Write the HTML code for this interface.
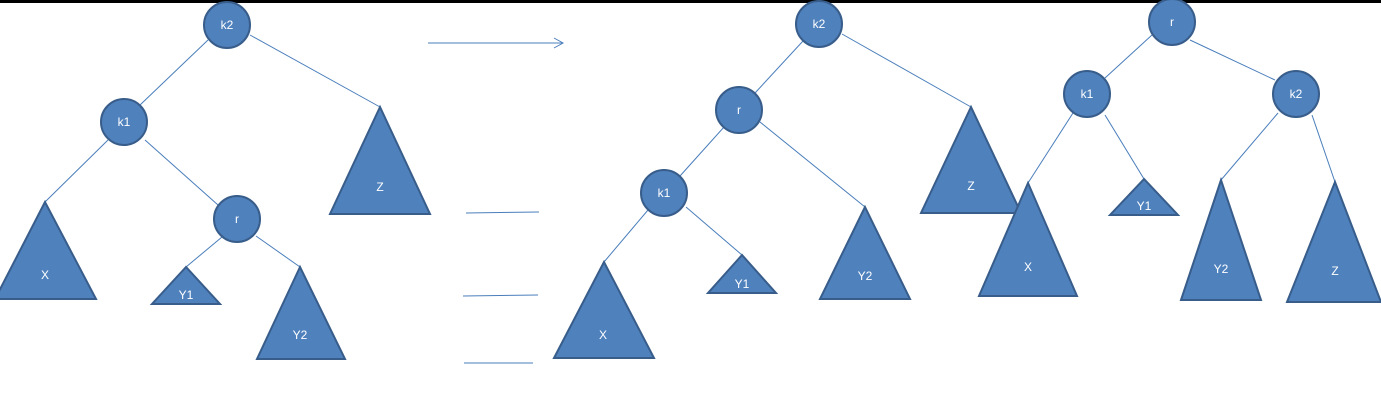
<!DOCTYPE html>
<html><head><style>
html,body{margin:0;padding:0;background:#fff;width:1381px;height:404px;overflow:hidden}
svg text{font-family:"Liberation Sans",sans-serif;font-size:12px;fill:#fff;text-anchor:middle;dominant-baseline:middle}
</style></head><body>
<svg width="1381" height="404" viewBox="0 0 1381 404" xmlns="http://www.w3.org/2000/svg">
<rect x="0" y="0" width="1381" height="3" fill="#000"/>
<g stroke="#4a7ebb" stroke-width="1" fill="none">
<line x1="208" y1="40" x2="140" y2="105"/>
<line x1="250" y1="35" x2="380" y2="107"/>
<line x1="108" y1="140" x2="45" y2="202"/>
<line x1="145" y1="140" x2="218" y2="205"/>
<line x1="222" y1="237" x2="186" y2="267"/>
<line x1="256" y1="236" x2="300" y2="267"/>
<line x1="428" y1="43" x2="563" y2="43"/>
<polyline points="554,38 563,43 554,48"/>
<line x1="466" y1="213" x2="539" y2="212"/>
<line x1="463" y1="296" x2="538" y2="295"/>
<line x1="464" y1="363" x2="533" y2="363"/>
<line x1="803" y1="41" x2="755" y2="93"/>
<line x1="842" y1="34" x2="971" y2="107"/>
<line x1="724" y1="127" x2="680" y2="176"/>
<line x1="760" y1="122" x2="865" y2="207"/>
<line x1="648" y1="210" x2="604" y2="262"/>
<line x1="686" y1="207" x2="742" y2="255"/>
<line x1="1152" y1="35" x2="1105" y2="78"/>
<line x1="1190" y1="40" x2="1275" y2="80"/>
<line x1="1073" y1="113" x2="1028" y2="183"/>
<line x1="1105" y1="115" x2="1144" y2="179"/>
<line x1="1278" y1="113" x2="1221" y2="180"/>
<line x1="1312" y1="115" x2="1335" y2="182"/>
</g>
<g fill="#4f81bd" stroke="#385d8a" stroke-width="2">
<circle cx="227" cy="25" r="23"/>
<circle cx="124" cy="122" r="23"/>
<circle cx="237" cy="219" r="23"/>
<polygon points="45,202 -5,299 96,299"/>
<polygon points="186,267 152,304 220,304"/>
<polygon points="300,267 257,359 345,359"/>
<polygon points="380,107 330,214 430,214"/>
<circle cx="819" cy="24" r="23"/>
<circle cx="739" cy="110" r="23"/>
<circle cx="664" cy="193" r="23"/>
<polygon points="971,107 921,213 1021,213"/>
<polygon points="865,207 820,299 910,299"/>
<polygon points="742,255 708,293 776,293"/>
<polygon points="604,262 554,358 654,358"/>
<circle cx="1172" cy="22" r="23"/>
<circle cx="1087" cy="94" r="23"/>
<circle cx="1296" cy="94" r="23"/>
<polygon points="1028,183 979,296 1077,296"/>
<polygon points="1144,179 1110,215 1178,215"/>
<polygon points="1221,180 1181,300 1261,300"/>
<polygon points="1335,182 1287,302 1381,302"/>
</g>
<text x="227" y="26">k2</text>
<text x="124" y="123">k1</text>
<text x="237" y="220">r</text>
<text x="45" y="276">X</text>
<text x="186" y="296">Y1</text>
<text x="300" y="336">Y2</text>
<text x="380" y="188">Z</text>
<text x="819" y="25">k2</text>
<text x="739" y="111">r</text>
<text x="664" y="194">k1</text>
<text x="971" y="187">Z</text>
<text x="865" y="277">Y2</text>
<text x="742" y="285">Y1</text>
<text x="603" y="336">X</text>
<text x="1172" y="23">r</text>
<text x="1087" y="95">k1</text>
<text x="1296" y="95">k2</text>
<text x="1028" y="268">X</text>
<text x="1144" y="207">Y1</text>
<text x="1221" y="270">Y2</text>
<text x="1335" y="272">Z</text>
</svg>
</body></html>
